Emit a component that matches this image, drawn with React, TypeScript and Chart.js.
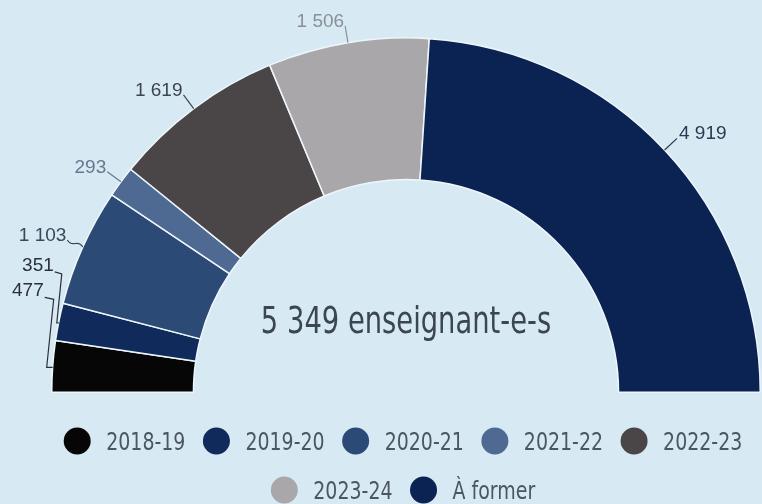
import { useEffect, useRef } from 'react';
import { Chart, registerables } from 'chart.js';

Chart.register(...registerables);

// ---- data ----
const categories = ['2018-19', '2019-20', '2020-21', '2021-22', '2022-23', '2023-24', 'À former'];
const values = [477, 351, 1103, 293, 1619, 1506, 4919];
const centerUnit = 'enseignant-e-s';

// ---- styles ----
const BG = '#d7eaf4';
const sliceColors = ['#060606', '#0f2a5b', '#2c4a76', '#4e6a92', '#4a4546', '#a9a7aa', '#0b2352'];
const labelColors = ['#2b3038', '#2b3038', '#3a475a', '#66788e', '#3e444c', '#8b9097', '#2b3a4e'];
const leaderStyle = ['bracket', 'bracket', 'wave', 'line', 'line', 'line', 'line'];
const bracketShape: Record<number, { rise: number; textDx: number; topDx: number; botDx: number }> = {
  0: { rise: 70, textDx: -9, topDx: 1, botDx: -6 },
  1: { rise: 51, textDx: -5, topDx: 3, botDx: -2 },
};
const NARROW = '"DejaVu Sans", sans-serif';
const CONDENSE = 0.79;
const CENTER_CONDENSE = 0.72;
const REGULAR = '"Liberation Sans", Arial, sans-serif';

function fmt(n: number) {
  return String(n).replace(/\B(?=(\d{3})+(?!\d))/g, ' ');
}

function fillNarrow(
  ctx: CanvasRenderingContext2D,
  text: string,
  x: number,
  y: number,
  align: CanvasTextAlign,
  k: number = CONDENSE
) {
  ctx.save();
  ctx.translate(x, y);
  ctx.scale(k, 1);
  ctx.textAlign = align;
  ctx.fillText(text, 0, 0);
  ctx.restore();
}

const sliceLabels = {
  id: 'sliceLabels',
  afterDatasetsDraw(chart: any) {
    const meta = chart.getDatasetMeta(0);
    const ctx = chart.ctx as CanvasRenderingContext2D;
    ctx.save();
    ctx.font = `19px ${REGULAR}`;
    ctx.lineWidth = 1.2;
    ctx.textBaseline = 'alphabetic';
    meta.data.forEach((arc: any, i: number) => {
      const { x, y, startAngle, endAngle, outerRadius } = arc.getProps(
        ['x', 'y', 'startAngle', 'endAngle', 'outerRadius'],
        true
      );
      const mid = (startAngle + endAngle) / 2;
      const c = Math.cos(mid);
      const s = Math.sin(mid);
      const px = x + c * outerRadius;
      const py = y + s * outerRadius;
      const text = fmt(values[i]);
      ctx.strokeStyle = labelColors[i];
      ctx.fillStyle = labelColors[i];
      const style = leaderStyle[i];
      if (style === 'bracket') {
        const b = bracketShape[i];
        ctx.beginPath();
        ctx.moveTo(px + b.textDx + 1, py - b.rise + 1);
        ctx.lineTo(px + b.topDx, py - b.rise + 3);
        ctx.lineTo(px + b.botDx, py + 1);
        ctx.lineTo(px, py + 1);
        ctx.stroke();
        ctx.textAlign = 'right';
        ctx.fillText(text, px + b.textDx, py - b.rise);
      } else {
        const ex = px + c * 17;
        const ey = py + s * 17;
        ctx.beginPath();
        ctx.moveTo(px, py);
        if (style === 'wave') {
          const mx = (px + ex) / 2;
          const my = (py + ey) / 2;
          const nx = -s * 3;
          const ny = c * 3;
          ctx.quadraticCurveTo((px + mx) / 2 + nx, (py + my) / 2 + ny, mx, my);
          ctx.quadraticCurveTo((mx + ex) / 2 - nx, (my + ey) / 2 - ny, ex, ey);
        } else {
          ctx.lineTo(ex, ey);
        }
        ctx.stroke();
        ctx.textAlign = c < 0 ? 'right' : 'left';
        ctx.fillText(text, c < 0 ? ex - 1 : ex + 2, ey + 1);
      }
    });
    ctx.restore();
  },
  afterDraw(chart: any) {
    const ctx = chart.ctx as CanvasRenderingContext2D;
    const meta = chart.getDatasetMeta(0);
    const arc0 = meta.data[0];
    const cx = arc0.x;
    const cy = arc0.y;
    ctx.save();
    ctx.textBaseline = 'alphabetic';
    // centre text
    const trained = values.slice(0, values.length - 1).reduce((a, b) => a + b, 0);
    ctx.font = `38px ${NARROW}`;
    ctx.fillStyle = '#3b4650';
    fillNarrow(ctx, `${fmt(trained)} ${centerUnit}`, cx, cy - 59, 'center', CENTER_CONDENSE);

    // legend
    ctx.font = `24px ${NARROW}`;
    const r = 13.5;
    const gapCT = 15.5;
    const gapItems = 17.5;
    const maxW = 740;
    const items = categories.map((lab, i) => ({
      lab,
      color: sliceColors[i],
      w: 2 * r + gapCT + ctx.measureText(lab).width * CONDENSE,
    }));
    const rows: { lab: string; color: string; w: number }[][] = [[]];
    let rowW = 0;
    items.forEach((it) => {
      const add = (rows[rows.length - 1].length ? gapItems : 0) + it.w;
      if (rows[rows.length - 1].length && rowW + add > maxW) {
        rows.push([it]);
        rowW = it.w;
      } else {
        rows[rows.length - 1].push(it);
        rowW += add;
      }
    });
    const rowY = [441, 490];
    const legendCenter = 403;
    rows.forEach((row, ri) => {
      const total = row.reduce((a, it) => a + it.w, 0) + gapItems * (row.length - 1);
      let xx = legendCenter - total / 2;
      const yy = rowY[ri] ?? rowY[0] + ri * 49;
      row.forEach((it) => {
        ctx.fillStyle = it.color;
        ctx.beginPath();
        ctx.arc(xx + r, yy, r, 0, Math.PI * 2);
        ctx.fill();
        ctx.fillStyle = '#4b5663';
        fillNarrow(ctx, it.lab, xx + 2 * r + gapCT, yy + 9, 'left');
        xx += it.w + gapItems;
      });
    });
    ctx.restore();
  },
};

export default function App() {
  const canvasRef = useRef<HTMLCanvasElement | null>(null);

  useEffect(() => {
    document.body.style.margin = '0';
    document.body.style.background = BG;
    const canvas = canvasRef.current;
    if (!canvas) return;
    const chart = new Chart(canvas, {
      type: 'doughnut',
      data: {
        labels: categories,
        datasets: [
          {
            data: values,
            backgroundColor: sliceColors,
            borderColor: '#eef6fb',
            borderWidth: 1.5,
          },
        ],
      },
      options: {
        responsive: true,
        maintainAspectRatio: false,
        animation: false,
        rotation: -90,
        circumference: 180,
        cutout: '60%',
        events: [],
        layout: { padding: { left: 51, right: 1, top: 37, bottom: 111 } },
        plugins: {
          legend: { display: false },
          tooltip: { enabled: false },
        },
      },
      plugins: [sliceLabels],
    });
    return () => chart.destroy();
  }, []);

  return (
    <div style={{ width: 762, height: 504, position: 'relative', background: BG }}>
      <canvas ref={canvasRef} />
    </div>
  );
}
